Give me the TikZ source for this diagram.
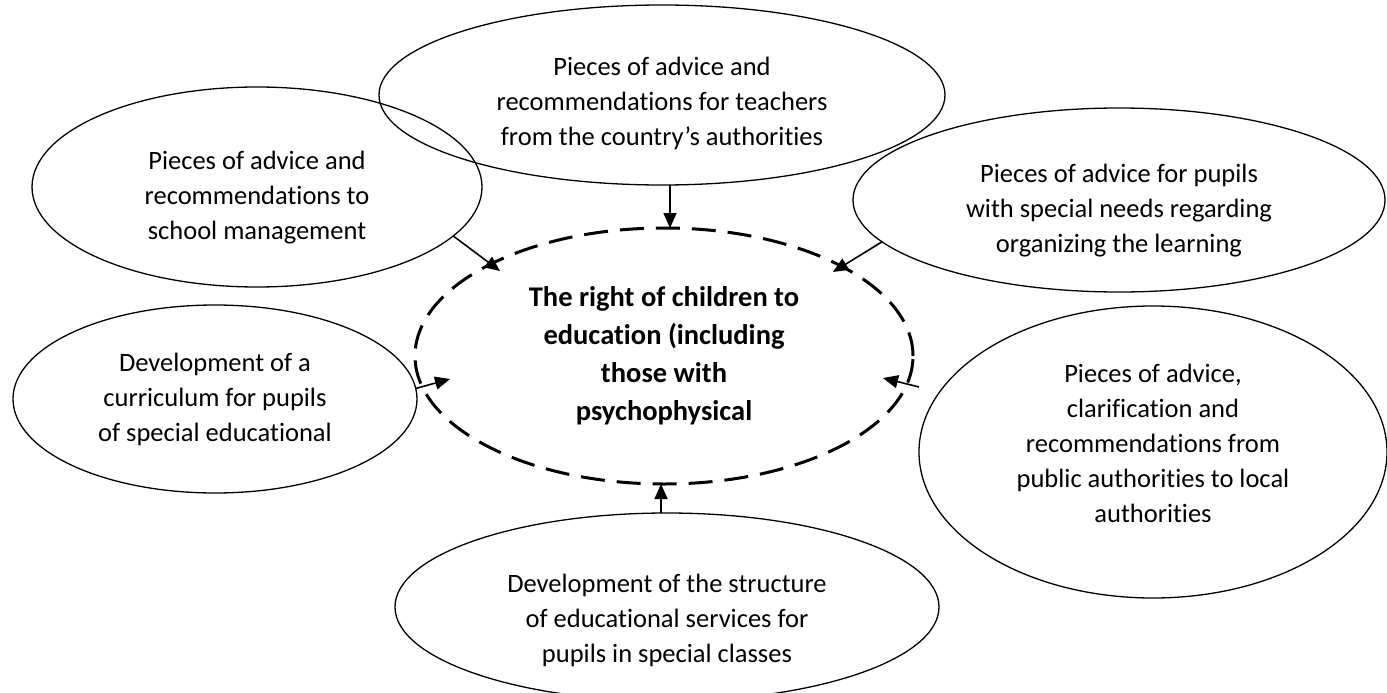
\documentclass[tikz,border=0pt]{standalone}
\usepackage{fontspec}
\setmainfont{Carlito}[Ligatures=NoCommon]
\usetikzlibrary{shapes.geometric,arrows.meta,calc}
\newcommand\pushdn[1]{\rule{0pt}{\dimexpr 0.75em+(#1)*2\relax}}
\newcommand\pushup[1]{\rule[-\dimexpr 0.25em+(#1)*2\relax]{0pt}{\dimexpr 0.25em+(#1)*2\relax}}
\begin{document}
\begin{tikzpicture}[x=1pt,y=-1pt,
  oval/.style={ellipse,draw=black,line width=1.3pt,inner sep=0pt,outer sep=0pt,align=center,
    font=\fontsize{26.5}{35}\selectfont},
  mainoval/.style={ellipse,draw=black,line width=3pt,dash pattern=on 24pt off 12pt,inner sep=0pt,outer sep=0pt,
    align=center,font=\fontsize{28.5}{38}\selectfont\bfseries},
  arr/.style={line width=1.6pt,-{Triangle[length=15pt,width=13pt]}}]
\clip (0,0) rectangle (1387,693);
\fill[white] (0,0) rectangle (1387,693);
\node[oval,minimum width=566pt,minimum height=180pt] (top) at (662,95)
  {\pushdn{8pt}Pieces of advice and\\recommendations for teachers\\from the country’s authorities};
\node[oval,minimum width=450pt,minimum height=200pt] (tl) at (257,187)
  {\pushdn{10pt}Pieces of advice and\\recommendations to\\school management};
\node[oval,minimum width=532pt,minimum height=184pt] (tr) at (1119,200)
  {\pushdn{10pt}Pieces of advice for pupils\\with special needs regarding\\organizing the learning};
\node[mainoval,minimum width=498pt,minimum height=256pt] (ctr) at (664,356)
  {The right of children to\\education (including\\those with\\psychophysical};
\node[oval,minimum width=404pt,minimum height=188pt] (lft) at (215,399)
  {Development of a\\curriculum for pupils\\of special educational};
\node[oval,minimum width=468pt,minimum height=292pt] (rb) at (1153,452)
  {Pieces of advice,\\clarification and\\recommendations from\\public authorities to local\\authorities\pushup{5pt}};
\node[oval,minimum width=544pt,minimum height=188pt] (bot) at (667,607)
  {\pushdn{13pt}Development of the structure\\of educational services for\\pupils in special classes};
\coordinate (tlTip) at ($(ctr.center)+(-164,-85)$);
\coordinate (trTip) at ($(ctr.center)+(169,-84)$);
\coordinate (lftTip) at ($(ctr.west)+(35,23)$);
\coordinate (rbTail) at ($(rb.west)+(0,-65)$);
\coordinate (rbTip) at ($(ctr.east)+(-30,22)$);
\draw[arr] (top.south -| 670,0) -- (670,0 |- ctr.north);
\draw[arr] (tl.-14.6) -- (tlTip);
\draw[arr] (tr.-170.6) -- (trTip);
\draw[arr] (lft.3.4) -- (lftTip);
\draw[arr] (rbTail) -- (rbTip);
\draw[arr] (bot.north -| 661,0) -- (661,0 |- ctr.south);
\end{tikzpicture}
\end{document}
